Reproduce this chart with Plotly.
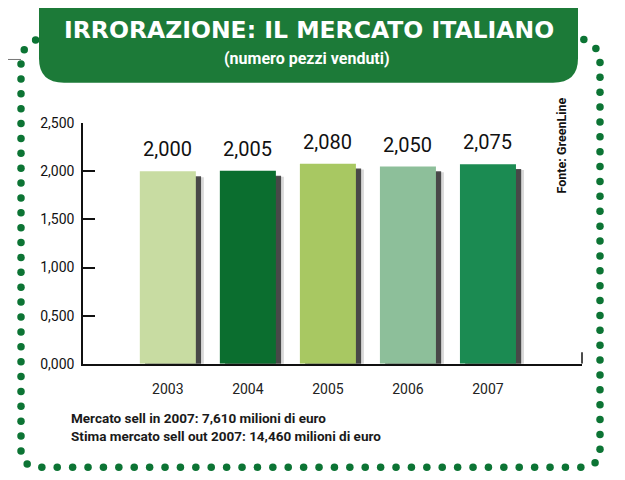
import numpy as np
import plotly.graph_objects as go

# dati
anni = ['2003', '2004', '2005', '2006', '2007']
pezzi = [2.000, 2.005, 2.080, 2.050, 2.075]
colori = ['#c8dca2', '#0b6e2f', '#a8c862', '#8dbf9a', '#1b8b52']
tick_y = [0.0, 0.5, 1.0, 1.5, 2.0, 2.5]
titolo = 'IRRORAZIONE: IL MERCATO ITALIANO'
sottotitolo = '(numero pezzi venduti)'
fonte = 'Fonte: GreenLine'
note = ['Mercato sell in 2007: 7,610 milioni di euro',
        'Stima mercato sell out 2007: 14,460 milioni di euro']

# la pagina ha 8px di margine: coordinate in pixel della finestra
OFF = 8
W, H = 625 - OFF, 480 - OFF
NARROW = 'Roboto, Liberation Sans, sans-serif'
VERDE = '#1c7a38'
PUNTI = '#0c7434'


def px(x):
    return (x - OFF) / W


def py(y):
    return 1 - (y - OFF) / H


# cornice a puntini (rettangolo arrotondato)
def cornice(x0, x1, y0, y1, rt, rb, passo):
    pts = []
    def seg(a, b, n=200):
        for t in np.linspace(0, 1, n, endpoint=False):
            pts.append((a[0] + (b[0] - a[0]) * t, a[1] + (b[1] - a[1]) * t))
    def arco(cx, cy, r, a0, a1, n=60):
        for t in np.linspace(a0, a1, n, endpoint=False):
            pts.append((cx + r * np.cos(t), cy + r * np.sin(t)))
    seg((x0 + rt, y0), (x1 - rt, y0))
    arco(x1 - rt, y0 + rt, rt, -np.pi / 2, 0)
    seg((x1, y0 + rt), (x1, y1 - rb))
    arco(x1 - rb, y1 - rb, rb, 0, np.pi / 2)
    seg((x1 - rb, y1), (x0 + rb, y1))
    arco(x0 + rb, y1 - rb, rb, np.pi / 2, np.pi)
    seg((x0, y1 - rb), (x0, y0 + rt))
    arco(x0 + rt, y0 + rt, rt, np.pi, 1.5 * np.pi)
    pts = np.array(pts)
    d = np.r_[0, np.cumsum(np.hypot(*np.diff(pts, axis=0).T))]
    s = np.arange(0, d[-1], passo)
    return np.interp(s, d, pts[:, 0]), np.interp(s, d, pts[:, 1])


cx, cy = cornice(21, 600, 31, 475, 24, 16, 15.4)

fig = go.Figure()

# ombre delle barre
fig.add_trace(go.Bar(x=anni, y=[v - 0.03 for v in pezzi], base=-0.03, width=0.7,
                     offset=-0.35 + 0.1, marker=dict(color='rgba(0,0,0,0.15)', line_width=0),
                     hoverinfo='skip', showlegend=False))
fig.add_trace(go.Bar(x=anni, y=[v - 0.03 for v in pezzi], base=-0.02, width=0.7,
                     offset=-0.35 + 0.065, marker=dict(color='rgba(10,10,10,0.7)', line_width=0),
                     hoverinfo='skip', showlegend=False))
# barre
fig.add_trace(go.Bar(x=anni, y=pezzi, width=0.7, offset=-0.35,
                     marker=dict(color=colori, line_width=0), showlegend=False))

fig.add_trace(go.Scatter(x=cx, y=cy, mode='markers', xaxis='x2', yaxis='y2',
                         marker=dict(size=7.5, color=PUNTI), hoverinfo='skip',
                         showlegend=False))

ann = []
for i, v in enumerate(pezzi):
    ann.append(dict(x=i, y=v, xref='x', yref='y', xanchor='center', yanchor='bottom',
                    yshift=8, text=f'{v:.3f}'.replace('.', ','), showarrow=False,
                    font=dict(family=NARROW, size=20, color='#111')))
ann.append(dict(x=px(309), y=py(22), xref='paper', yref='paper', text='<b>%s</b>' % titolo,
                xanchor='center', yanchor='middle', showarrow=False,
                font=dict(family='DejaVu Sans, sans-serif', size=23.5, color='white')))
ann.append(dict(x=px(307), y=py(52), xref='paper', yref='paper', text='<b>%s</b>' % sottotitolo,
                xanchor='center', yanchor='middle', showarrow=False,
                font=dict(family=NARROW, size=16, color='white')))
ann.append(dict(x=px(561), y=py(142), xref='paper', yref='paper', text='<b>%s</b>' % fonte,
                xanchor='center', yanchor='middle', textangle=-90, showarrow=False,
                font=dict(family=NARROW, size=12.5, color='#111')))
for i, t in enumerate(note):
    ann.append(dict(x=px(69), y=py(424 + 19 * i), xref='paper', yref='paper',
                    xanchor='left', yanchor='middle', text='<b>%s</b>' % t, showarrow=False,
                    font=dict(family=NARROW, size=13.5, color='#1a1a1a')))

shapes = [
    # riquadro del titolo
    dict(type='path', xref='paper', yref='paper', layer='above',
         path='M %f %f L %f %f Q %f %f %f %f L %f %f Q %f %f %f %f L %f %f Z' % (
             px(39), py(-30), px(39), py(52), px(39), py(77), px(64), py(77),
             px(553), py(77), px(578), py(77), px(578), py(52), px(578), py(-30)),
         fillcolor=VERDE, line=dict(width=0)),
    dict(type='line', xref='paper', yref='paper', x0=px(0), x1=px(21), y0=py(53), y1=py(53),
         line=dict(color='#777', width=1)),
    dict(type='line', xref='x domain', yref='y', x0=1, x1=1, y0=0, y1=0.12,
         line=dict(color='#111', width=1.5)),
]

fig.update_layout(
    width=W, height=H,
    margin=dict(l=0, r=0, t=0, b=0),
    paper_bgcolor='white', plot_bgcolor='rgba(0,0,0,0)',
    barmode='overlay', separators=',.',
    showlegend=False,
    annotations=ann, shapes=shapes,
    xaxis=dict(domain=[px(83), px(582)], range=[-1.06, 5.175], type='category',
               showline=True, linecolor='#111', linewidth=1.5, showgrid=False,
               ticks='outside', ticklen=12, tickcolor='rgba(0,0,0,0)',
               tickfont=dict(family=NARROW, size=14, color='#222')),
    yaxis=dict(domain=[py(368), py(119)], range=[0, 2.5], tickvals=tick_y,
               tickformat='.3f', showline=True, linecolor='#111', linewidth=1.5,
               ticks='inside', ticklen=12, tickwidth=1.5, tickcolor='#111',
               showgrid=False, zeroline=False, ticklabelstandoff=4,
               tickfont=dict(family=NARROW, size=14, color='#111')),
    xaxis2=dict(domain=[0, 1], range=[OFF, 625], visible=False, anchor='y2'),
    yaxis2=dict(domain=[0, 1], range=[480, OFF], visible=False, anchor='x2'),
)

fig.write_html('out.html')
